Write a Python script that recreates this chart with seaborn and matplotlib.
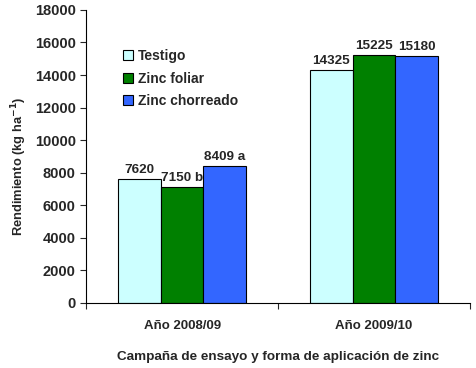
import pandas as pd
import seaborn as sns
import matplotlib.pyplot as plt
from matplotlib.ticker import FixedLocator

# Rendimiento por campaña y tratamiento de zinc
campanias = ['Año 2008/09', 'Año 2009/10']
tratamientos = ['Testigo', 'Zinc foliar', 'Zinc chorreado']
testigo = [7620, 14325]
zinc_foliar = [7150, 15225]
zinc_chorreado = [8409, 15180]
etiquetas = {
    'Testigo': ['7620', '14325'],
    'Zinc foliar': ['7150 b', '15225'],
    'Zinc chorreado': ['8409 a', '15180'],
}
colores = ['#CCFFFF', '#008000', '#3366FF']

df = pd.DataFrame({
    'Campaña': campanias * 3,
    'Tratamiento': [t for t in tratamientos for _ in campanias],
    'Rendimiento': testigo + zinc_foliar + zinc_chorreado,
})

sns.set_style('white')
plt.rcParams['font.family'] = ['Liberation Sans', 'DejaVu Sans']
plt.rcParams['font.weight'] = 'bold'

fig = plt.figure(figsize=(4.76, 3.68), dpi=100)
ax = fig.add_axes([0.181, 0.177, 0.806, 0.796])

sns.barplot(data=df, x='Campaña', y='Rendimiento', hue='Tratamiento',
            hue_order=tratamientos, palette=colores, width=2/3,
            edgecolor='black', linewidth=0.8, saturation=1, ax=ax)

for cont, trat in zip(ax.containers, tratamientos):
    ax.bar_label(cont, labels=etiquetas[trat], padding=2,
                 fontsize=9.7, fontweight='bold')

ax.set_ylim(0, 18000)
ax.set_yticks(range(0, 18001, 2000))
ax.set_xlim(-0.5, 1.5)
ax.xaxis.set_major_locator(FixedLocator([-0.5, 0.5, 1.5]))
ax.xaxis.set_minor_locator(FixedLocator([0, 1]))
ax.set_xticklabels([], minor=False)
ax.set_xticklabels(campanias, minor=True, fontsize=9.5, fontweight='bold')
ax.tick_params(axis='x', which='major', length=4, width=0.8, direction='out', bottom=True)
ax.tick_params(axis='x', which='minor', length=0, pad=12)
ax.tick_params(axis='y', length=4, width=0.8, direction='out', left=True, labelsize=10.5)
for lbl in ax.get_yticklabels():
    lbl.set_fontweight('bold')

for s in ['top', 'right']:
    ax.spines[s].set_visible(False)
for s in ['left', 'bottom']:
    ax.spines[s].set_color('black')
    ax.spines[s].set_linewidth(0.8)

ax.set_ylabel('Rendimiento (kg ha$^{\\mathbf{-1}}$)', fontsize=9.3, fontweight='bold')
ax.yaxis.set_label_coords(-0.15, 0.465)
ax.set_xlabel('Campaña de ensayo y forma de aplicación de zinc', fontsize=9.7,
              fontweight='bold', labelpad=14)

ax.legend(loc='upper left', bbox_to_anchor=(0.082, 0.885), frameon=False,
          handlelength=0.7, handleheight=0.7, handletextpad=0.35,
          labelspacing=0.6, borderaxespad=0, title=None,
          prop={'weight': 'bold', 'size': 10})

fig.savefig('out.png', dpi=100)
